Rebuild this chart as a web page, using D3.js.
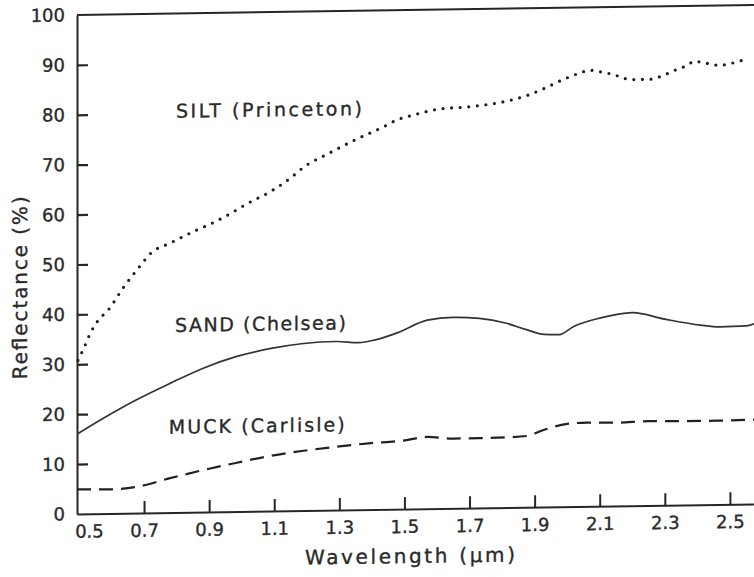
<!DOCTYPE html>
<html>
<head>
<meta charset="utf-8">
<script src="https://cdn.jsdelivr.net/npm/d3@7"></script>
<style>
  html, body { margin: 0; padding: 0; background: #fff; }
  svg { display: block; }
  .tick text { font-family: "DejaVu Sans", sans-serif; font-size: 18px; fill: #2a2a2a; stroke: #2a2a2a; stroke-width: 0.35px; }
  .lbl { font-family: "DejaVu Sans", sans-serif; fill: #2a2a2a; stroke: #2a2a2a; stroke-width: 0.35px; }
</style>
</head>
<body>
<svg id="chart" width="754" height="577"></svg>
<script>
// Spectral reflectance of three soils
const siltWavelength = [0.497, 0.515, 0.535, 0.56, 0.59, 0.635, 0.69, 0.72, 0.78, 0.85, 0.90, 0.95, 1.02, 1.09, 1.15, 1.19, 1.27, 1.35, 1.43, 1.48, 1.53, 1.61, 1.69, 1.75, 1.81, 1.875, 1.93, 1.98, 2.04, 2.07, 2.09, 2.15, 2.18, 2.21, 2.25, 2.28, 2.34, 2.37, 2.39, 2.41, 2.47, 2.50, 2.53, 2.56];
const siltReflectance = [30.8, 33.2, 36.2, 38.8, 40.8, 45.1, 49.7, 52.0, 54.0, 56.2, 57.6, 59.2, 61.8, 64.1, 66.7, 68.8, 71.6, 74.2, 76.5, 78.1, 79.0, 80.1, 80.4, 80.8, 81.4, 82.5, 83.9, 85.4, 86.9, 87.4, 87.2, 86.3, 85.6, 85.4, 85.4, 85.8, 87.4, 88.1, 88.9, 88.7, 88.0, 88.3, 88.8, 89.3];

const sandWavelength = [0.494, 0.575, 0.677, 0.78, 0.88, 0.985, 1.09, 1.19, 1.29, 1.36, 1.41, 1.48, 1.57, 1.65, 1.73, 1.81, 1.875, 1.93, 1.975, 2.02, 2.10, 2.20, 2.30, 2.41, 2.47, 2.55, 2.574];
const sandReflectance = [16.0, 19.1, 22.7, 25.9, 28.8, 31.1, 32.6, 33.5, 33.8, 33.5, 34.0, 35.4, 37.8, 38.3, 38.0, 37.0, 35.6, 34.6, 34.5, 36.1, 37.7, 38.7, 37.3, 36.0, 35.6, 35.7, 36.1];

const muckWavelength = [0.494, 0.60, 0.68, 0.78, 0.88, 0.985, 1.09, 1.19, 1.29, 1.39, 1.49, 1.57, 1.65, 1.73, 1.82, 1.875, 1.925, 2.00, 2.06, 2.15, 2.25, 2.36, 2.46, 2.574];
const muckReflectance = [4.95, 4.85, 5.3, 6.9, 8.4, 9.8, 11.1, 12.0, 12.7, 13.3, 13.7, 14.4, 14.0, 14.0, 14.1, 14.3, 15.4, 16.6, 16.8, 16.7, 16.9, 16.8, 16.8, 16.9];

const xTickValues = [0.5, 0.7, 0.9, 1.1, 1.3, 1.5, 1.7, 1.9, 2.1, 2.3, 2.5];
const xTickLabels = ["0.5", "0.7", "0.9", "1.1", "1.3", "1.5", "1.7", "1.9", "2.1", "2.3", "2.5"];
const yTickValues = [0, 10, 20, 30, 40, 50, 60, 70, 80, 90, 100];
const yTickLabels = ["0", "10", "20", "30", "40", "50", "60", "70", "80", "90", "100"];

const seriesNames = ["SILT (Princeton)", "SAND (Chelsea)", "MUCK (Carlisle)"];

const plotLeft = 77, plotRight = 754, plotTop = 15, plotBottom = 514;
const x = d3.scaleLinear().domain([0.494, 2.574]).range([plotLeft, plotRight]);
const y = d3.scaleLinear().domain([0, 100]).range([plotBottom, plotTop]);

const svg = d3.select("#chart");
svg.append("rect").attr("width", 754).attr("height", 577).attr("fill", "#fff");

// the whole drawing leans slightly, as on the printed page
const g = svg.append("g")
  .attr("transform", `translate(${plotLeft},0) skewY(-0.85) translate(${-plotLeft},0)`);

const ink = "#262626";

// y axis, ticks pointing inward
const yAxis = g.append("g")
  .attr("transform", `translate(${plotLeft},0)`)
  .call(d3.axisLeft(y).tickValues(yTickValues)
    .tickFormat((d, i) => yTickLabels[i])
    .tickSizeInner(-11).tickSizeOuter(0).tickPadding(12));
yAxis.select(".domain").attr("stroke", ink).attr("stroke-width", 2);
yAxis.selectAll(".tick line").attr("stroke", ink).attr("stroke-width", 2.2)
  .filter(d => d === 0 || d === 100).remove();

// x axis, ticks pointing inward
const xAxis = g.append("g")
  .attr("transform", `translate(0,${plotBottom})`)
  .call(d3.axisBottom(x).tickValues(xTickValues)
    .tickFormat((d, i) => xTickLabels[i])
    .tickSizeInner(-12).tickSizeOuter(0).tickPadding(11));
xAxis.select(".domain").attr("stroke", ink).attr("stroke-width", 2);
xAxis.selectAll(".tick line").attr("stroke", ink).attr("stroke-width", 2)
  .filter(d => d === 0.5).remove();
xAxis.selectAll(".tick text").filter(d => d === 0.5).attr("dx", 10);

// top frame line
g.append("line")
  .attr("x1", plotLeft).attr("x2", plotRight)
  .attr("y1", y(100)).attr("y2", y(100))
  .attr("stroke", ink).attr("stroke-width", 2);

const line = d3.line().curve(d3.curveMonotoneX).x(d => x(d[0])).y(d => y(d[1]));

// SILT: dotted
g.append("path")
  .datum(d3.zip(siltWavelength, siltReflectance))
  .attr("d", line).attr("fill", "none")
  .attr("stroke", "#1e1e1e").attr("stroke-width", 3.2)
  .attr("stroke-linecap", "round").attr("stroke-dasharray", "0 8.6");

// SAND: solid
g.append("path")
  .datum(d3.zip(sandWavelength, sandReflectance))
  .attr("d", line).attr("fill", "none")
  .attr("stroke", "#333").attr("stroke-width", 1.7);

// MUCK: dashed
g.append("path")
  .datum(d3.zip(muckWavelength, muckReflectance))
  .attr("d", line).attr("fill", "none")
  .attr("stroke", "#222").attr("stroke-width", 2.2)
  .attr("stroke-dasharray", "14 8");

// curve names
const labelAt = [[0.798, 79.1, 186], [0.795, 36.2, 171], [0.776, 15.8, 176]];
g.selectAll("text.name").data(seriesNames).enter().append("text")
  .attr("class", "lbl name")
  .attr("x", (d, i) => x(labelAt[i][0]))
  .attr("y", (d, i) => y(labelAt[i][1]))
  .attr("textLength", (d, i) => labelAt[i][2])
  .attr("lengthAdjust", "spacing")
  .attr("font-size", 19)
  .text(d => d);

// axis titles
g.append("text").attr("class", "lbl")
  .attr("x", 410).attr("y", 568)
  .attr("text-anchor", "middle")
  .attr("font-size", 20)
  .attr("textLength", 210).attr("lengthAdjust", "spacing")
  .text("Wavelength (μm)");

g.append("text").attr("class", "lbl")
  .attr("transform", "translate(27,287) rotate(-90)")
  .attr("text-anchor", "middle")
  .attr("font-size", 20)
  .attr("textLength", 183).attr("lengthAdjust", "spacing")
  .text("Reflectance (%)");
</script>
</body>
</html>
